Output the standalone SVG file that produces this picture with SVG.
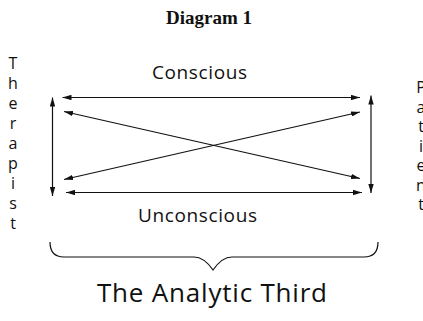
<svg xmlns="http://www.w3.org/2000/svg" width="423" height="321" viewBox="0 0 423 321">
<style>
.t{font-family:"Open Sans","Liberation Sans",sans-serif;fill:#111}
.side{font-size:16px;text-anchor:middle}
.ln{stroke:#111;stroke-width:1.2;fill:none}
</style>
<defs>
<marker id="ah" viewBox="0 0 10 6" refX="10" refY="3" markerWidth="9" markerHeight="5.4" markerUnits="userSpaceOnUse" orient="auto-start-reverse"><path d="M0,0 L10,3 L0,6 z" fill="#111"/></marker>
</defs>
<rect width="423" height="321" fill="#fff"/>
<g id="title"><text x="209" y="24" font-family="Liberation Serif,serif" font-weight="bold" font-size="19" text-anchor="middle" fill="#111">Diagram 1</text></g>
<g id="therapist"><text class="t side"><tspan x="13" y="69">T</tspan><tspan x="13" y="89">h</tspan><tspan x="13" y="109">e</tspan><tspan x="13" y="129">r</tspan><tspan x="13" y="149">a</tspan><tspan x="13" y="169">p</tspan><tspan x="13" y="189">i</tspan><tspan x="13" y="209">s</tspan><tspan x="13" y="229">t</tspan></text></g>
<g id="patient"><text class="t side"><tspan x="421" y="93">P</tspan><tspan x="421" y="112.5">a</tspan><tspan x="421" y="132">t</tspan><tspan x="421" y="151.5">i</tspan><tspan x="421" y="171">e</tspan><tspan x="421" y="190.5">n</tspan><tspan x="421" y="210">t</tspan></text></g>
<g id="conscious"><text class="t" x="152" y="79" font-size="19" textLength="95">Conscious</text></g>
<g id="unconscious"><text class="t" x="138" y="222" font-size="19" textLength="119">Unconscious</text></g>
<g id="analytic-third">
<path class="ln" stroke-width="1.3" d="M50,242 Q50,257 64,257 L194,257 Q204,257 213,270 Q222,257 232,257 L364,257 Q378,257 378,242"/>
<text class="t" x="212" y="302" font-size="26" text-anchor="middle" textLength="230">The Analytic Third</text>
</g>
<g id="connectors" class="ln">
<line x1="62.5" y1="97.5" x2="360" y2="97.5" marker-start="url(#ah)" marker-end="url(#ah)"/>
<line x1="66" y1="192.5" x2="362" y2="192.5" marker-start="url(#ah)" marker-end="url(#ah)"/>
<line x1="64" y1="111.5" x2="360" y2="178.5" marker-start="url(#ah)" marker-end="url(#ah)"/>
<line x1="64" y1="179.5" x2="360" y2="112" marker-start="url(#ah)" marker-end="url(#ah)"/>
<line x1="52.5" y1="97.5" x2="52.5" y2="196" marker-start="url(#ah)" marker-end="url(#ah)"/>
<line x1="371" y1="95.5" x2="371" y2="193" marker-start="url(#ah)" marker-end="url(#ah)"/>
</g>
</svg>
